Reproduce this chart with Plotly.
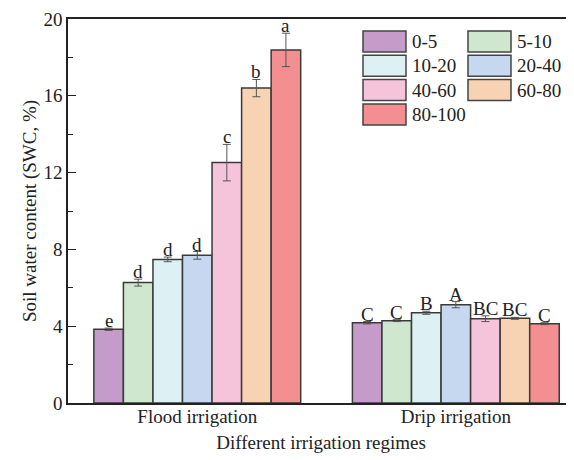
import plotly.graph_objects as go

regimes = ["Flood irrigation", "Drip irrigation"]
depths = ["0-5", "5-10", "10-20", "20-40", "40-60", "60-80", "80-100"]
flood_swc = [3.84, 6.27, 7.48, 7.69, 12.52, 16.40, 18.39]
flood_err = [0.06, 0.18, 0.12, 0.2, 0.95, 0.45, 0.87]
drip_swc = [4.18, 4.29, 4.70, 5.12, 4.39, 4.41, 4.13]
drip_err = [0.06, 0.05, 0.08, 0.16, 0.15, 0.05, 0.05]
flood_letters = ["e", "d", "d", "d", "c", "b", "a"]
drip_letters = ["C", "C", "B", "A", "BC", "BC", "C"]
colors = ["#C59CC9", "#CFE7CF", "#DDF0F4", "#C5D8EF", "#F6C4DA", "#F7D3B4", "#F38F90"]

FONT = "Liberation Serif"
fig = go.Figure()
n = len(depths)
for i, d in enumerate(depths):
    fig.add_trace(go.Bar(
        x=regimes, y=[flood_swc[i], drip_swc[i]], name=d,
        marker=dict(color=colors[i], line=dict(color="#3a3a3a", width=1.5)),
        error_y=dict(type="data", array=[flood_err[i], drip_err[i]],
                     color="#555555", thickness=1, width=4),
        showlegend=False,
    ))

annotations = []
group_w = 0.8
bw = group_w / n
for g, (vals, errs, letters) in enumerate([(flood_swc, flood_err, flood_letters),
                                            (drip_swc, drip_err, drip_letters)]):
    for i in range(n):
        annotations.append(dict(
            x=g - group_w / 2 + (i + 0.5) * bw, y=vals[i] + errs[i],
            xref="x", yref="y", text=letters[i], showarrow=False,
            yanchor="bottom", yshift=-5,
            font=dict(family=FONT, size=19, color="#222")))

# screen-pixel plot area (page body has an 8px margin)
OFF = 8
W, H = 574, 460
L, R, T, B = 68, 574, 19, 403
def px(x):
    return (x - L) / (R - L)
def py(y):
    return (B - y) / (B - T)
shapes = []
col_x = [363, 468]
for i, d in enumerate(depths):
    r, c = divmod(i, 2)
    x0 = col_x[c]
    y0 = 31 + r * 24.3
    shapes.append(dict(type="rect", xref="paper", yref="paper",
                       x0=px(x0), x1=px(x0 + 43), y0=py(y0), y1=py(y0 + 21),
                       fillcolor=colors[i], line=dict(color="#444", width=1.5)))
    annotations.append(dict(x=px(x0 + 47), y=py(y0 + 10.5), xref="paper", yref="paper",
                            text=d, showarrow=False, xanchor="left", yanchor="middle",
                            font=dict(family=FONT, size=19, color="#222")))

fig.update_layout(
    width=W - OFF, height=H - OFF,
    margin=dict(l=L - OFF, r=W - R, t=T - OFF, b=H - B),
    paper_bgcolor="white", plot_bgcolor="white",
    barmode="group", bargap=0.2, bargroupgap=0,
    font=dict(family=FONT, size=19, color="#222"),
    annotations=annotations, shapes=shapes,
    xaxis=dict(type="category", range=[-0.5, 1.457], showline=True, linecolor="#222",
               linewidth=1.5, mirror=True, ticks="", showgrid=False, automargin=False,
               ticklabelstandoff=-5,
               title=dict(text="Different irrigation regimes", standoff=10,
                          font=dict(family=FONT, size=19))),
    yaxis=dict(range=[0, 20], dtick=4, showline=True, linecolor="#222", linewidth=1.5,
               ticks="inside", ticklen=8, tickcolor="#222", showgrid=False, zeroline=False,
               automargin=False,
               minor=dict(dtick=2, ticks="inside", ticklen=5, tickcolor="#222"),
               title=dict(text="Soil water content (SWC, %)", standoff=2,
                          font=dict(family=FONT, size=19))),
)
fig.write_html("out.html")
